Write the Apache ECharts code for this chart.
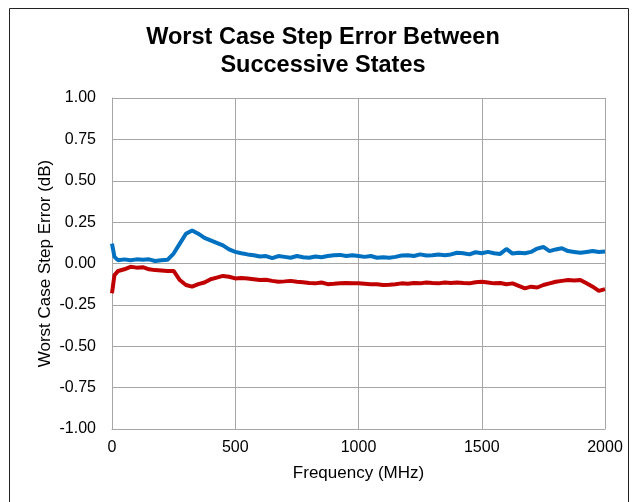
<!DOCTYPE html>
<html>
<head>
<meta charset="utf-8">
<script src="https://cdn.jsdelivr.net/npm/echarts@6/dist/echarts.min.js"></script>
<style>
html,body{margin:0;padding:0;background:#fff;}
#c{width:636px;height:502px;}
</style>
</head>
<body>
<div id="c"></div>
<script>
var freq = [0,10,25,50,75,100,125,150,175,200,225,250,275,300,325,350,375,400,425,450,475,500,525,550,575,600,625,650,675,700,725,750,775,800,825,850,875,900,925,950,975,1000,1025,1050,1075,1100,1125,1150,1175,1200,1225,1250,1275,1300,1325,1350,1375,1400,1425,1450,1475,1500,1525,1550,1575,1600,1625,1650,1675,1700,1725,1750,1775,1800,1825,1850,1875,1900,1925,1950,1975,2000];
var blueVals = [0.12,0.04,0.02,0.025,0.02,0.025,0.022,0.025,0.015,0.02,0.022,0.06,0.12,0.18,0.2,0.18,0.155,0.14,0.125,0.11,0.085,0.07,0.062,0.055,0.05,0.042,0.045,0.032,0.045,0.04,0.035,0.045,0.038,0.035,0.042,0.038,0.045,0.05,0.052,0.045,0.05,0.045,0.04,0.045,0.035,0.038,0.035,0.04,0.048,0.05,0.045,0.055,0.048,0.05,0.055,0.05,0.055,0.065,0.062,0.055,0.068,0.062,0.07,0.062,0.058,0.088,0.06,0.065,0.062,0.07,0.09,0.1,0.075,0.085,0.092,0.075,0.07,0.065,0.07,0.075,0.07,0.072];
var redVals = [-0.18,-0.07,-0.045,-0.035,-0.02,-0.025,-0.022,-0.035,-0.04,-0.042,-0.045,-0.045,-0.1,-0.13,-0.14,-0.125,-0.115,-0.095,-0.085,-0.075,-0.08,-0.09,-0.088,-0.09,-0.095,-0.1,-0.098,-0.105,-0.11,-0.108,-0.105,-0.11,-0.113,-0.118,-0.12,-0.115,-0.125,-0.123,-0.12,-0.118,-0.12,-0.12,-0.122,-0.125,-0.125,-0.13,-0.128,-0.125,-0.12,-0.122,-0.118,-0.12,-0.115,-0.118,-0.12,-0.115,-0.118,-0.115,-0.118,-0.12,-0.113,-0.11,-0.115,-0.12,-0.118,-0.125,-0.12,-0.135,-0.15,-0.14,-0.145,-0.13,-0.12,-0.11,-0.105,-0.1,-0.103,-0.1,-0.12,-0.14,-0.165,-0.155];
var titleText = 'Worst Case Step Error Between\nSuccessive States';
var xName = 'Frequency (MHz)';
var yName = 'Worst Case Step Error (dB)';

function pairs(xs, ys){ return xs.map(function(x,i){ return [x, ys[i]]; }); }

var chart = echarts.init(document.getElementById('c'), null, {renderer:'canvas'});
var font = 'Liberation Sans, Arial, sans-serif';
chart.setOption({
  animation:false,
  backgroundColor:'#fff',
  title:{
    text:titleText,
    left:318, top:19, textAlign:'center',
    textStyle:{fontFamily:font, fontSize:23.5, fontWeight:'bold', color:'#000', lineHeight:28}
  },
  graphic:[{
    type:'rect', shape:{x:9.5,y:8.5,width:619,height:510}, silent:true,
    style:{fill:null, stroke:'#222', lineWidth:1}
  }],
  grid:{left:112, right:31, top:98, bottom:73, show:false},
  xAxis:{
    type:'value', min:0, max:2000, interval:500,
    name:xName, nameLocation:'middle', nameGap:36, nameMoveOverlap:false,
    nameTextStyle:{fontFamily:font, fontSize:17, color:'#000'},
    axisLine:{show:true, onZero:false, lineStyle:{color:'#a6a6a6', width:1}},
    axisTick:{show:false},
    axisLabel:{fontFamily:font, fontSize:16, color:'#000', margin:11,
      formatter:function(v){ return String(v); }},
    splitLine:{show:true, lineStyle:{color:'#a6a6a6', width:1}}
  },
  yAxis:{
    type:'value', min:-1, max:1, interval:0.25,
    name:yName, nameLocation:'middle', nameGap:58, nameMoveOverlap:false,
    nameTextStyle:{fontFamily:font, fontSize:17, color:'#000'},
    axisLine:{show:true, onZero:false, lineStyle:{color:'#a6a6a6', width:1}},
    axisTick:{show:false},
    axisLabel:{fontFamily:font, fontSize:16, color:'#000', margin:16,
      formatter:function(v){ return v.toFixed(2); }},
    splitLine:{show:true, lineStyle:{color:'#a6a6a6', width:1}}
  },
  series:[
    {type:'line', data:pairs(freq, blueVals), showSymbol:false, smooth:false,
     lineStyle:{color:'#0070C0', width:4}, itemStyle:{color:'#0070C0'}},
    {type:'line', data:pairs(freq, redVals), showSymbol:false, smooth:false,
     lineStyle:{color:'#C00000', width:4}, itemStyle:{color:'#C00000'}}
  ]
});
</script>
</body>
</html>
